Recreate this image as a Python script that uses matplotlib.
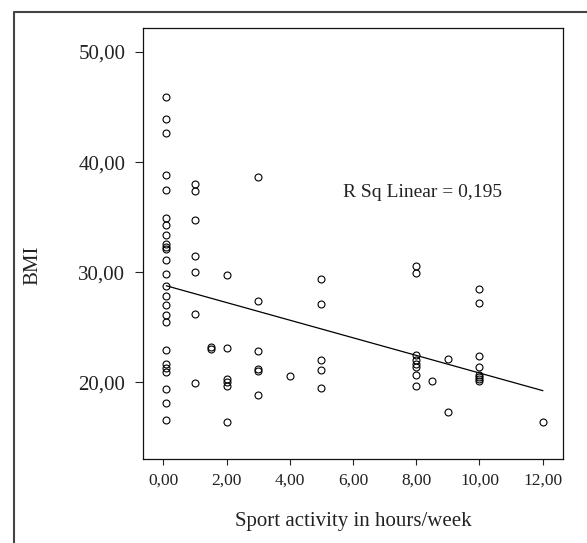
import numpy as np
import matplotlib
matplotlib.use("Agg")
import matplotlib.pyplot as plt
from matplotlib.lines import Line2D
from matplotlib.ticker import FuncFormatter

plt.rcParams['font.family'] = ['Liberation Serif', 'DejaVu Serif']

# sport activity (hours/week) and BMI
hours_0 = [0.1] * 25
bmi_0 = [45.9, 43.9, 42.6, 38.8, 37.5, 34.9, 34.3, 33.4, 32.6, 32.3, 32.1, 31.1,
         29.8, 28.7, 27.8, 27.0, 26.1, 25.5, 22.9, 21.7, 21.3, 20.9, 19.4, 18.1, 16.6]
hours_1 = [1.0] * 7 + [1.5] * 2
bmi_1 = [38.0, 37.4, 34.7, 31.5, 30.0, 26.2, 19.9, 23.2, 23.0]
hours_2 = [2.0] * 6 + [3.0] * 6 + [4.0]
bmi_2 = [29.7, 23.1, 20.3, 20.0, 19.7, 16.4,
         38.6, 27.4, 22.8, 21.2, 21.0, 18.8, 20.6]
hours_5 = [5.0] * 5
bmi_5 = [29.4, 27.1, 22.0, 21.1, 19.5]
hours_8 = [8.0] * 8 + [8.5, 9.0, 9.0]
bmi_8 = [30.6, 29.9, 22.5, 22.0, 21.7, 21.4, 20.7, 19.7, 20.1, 22.1, 17.3]
hours_10 = [10.0] * 8 + [12.0]
bmi_10 = [28.5, 27.2, 22.4, 21.4, 20.7, 20.5, 20.3, 20.1, 16.4]

x_ticks = [0, 2, 4, 6, 8, 10, 12]
y_ticks = [20, 30, 40, 50]
r_sq_label = "R Sq Linear = 0,195"

hours = np.array(hours_0 + hours_1 + hours_2 + hours_5 + hours_8 + hours_10)
bmi = np.array(bmi_0 + bmi_1 + bmi_2 + bmi_5 + bmi_8 + bmi_10)

fig = plt.figure(figsize=(5.87, 5.43), dpi=100)
ax = fig.add_axes([0.2431, 0.1541, 0.7165, 0.7938])

ax.plot(hours, bmi, linestyle="none", marker="o", markersize=5,
        markerfacecolor="none", markeredgecolor="black", markeredgewidth=0.8)

slope, intercept = np.polyfit(hours, bmi, 1)
fit_x = np.array([hours.min(), hours.max()])
ax.plot(fit_x, intercept + slope * fit_x, color="black", linewidth=0.9)

ax.set_xlim(-0.65, 12.65)
ax.set_ylim(13.0, 52.15)
ax.set_xticks(x_ticks)
ax.set_yticks(y_ticks)
comma = FuncFormatter(lambda v, p: f"{v:.2f}".replace(".", ","))
ax.xaxis.set_major_formatter(comma)
ax.yaxis.set_major_formatter(comma)
ax.tick_params(axis="x", direction="out", length=4.5, width=0.8, pad=5,
               labelsize=12.5, colors="#222222")
ax.tick_params(axis="y", direction="out", length=5.5, width=0.8, pad=7,
               labelsize=15, colors="#222222")
for s in ax.spines.values():
    s.set_linewidth(0.9)
    s.set_color("#111111")

ax.set_xlabel("Sport activity in hours/week", fontsize=15, color="#222222")
ax.set_ylabel("BMI", fontsize=15, color="#222222")
ax.xaxis.set_label_coords(0.5, -0.122)
ax.yaxis.set_label_coords(-0.239, 0.45)

ax.text(5.67, 36.84, r_sq_label, fontsize=14, va="baseline", ha="left",
        color="#222222")

# outer frame, open to the right and bottom
fig.add_artist(Line2D([14 / 587, 14 / 587, 1.0], [0.0, 1 - 12 / 543, 1 - 12 / 543],
                      transform=fig.transFigure, color="#444444", linewidth=1.5))

fig.savefig("out.png", dpi=100)
